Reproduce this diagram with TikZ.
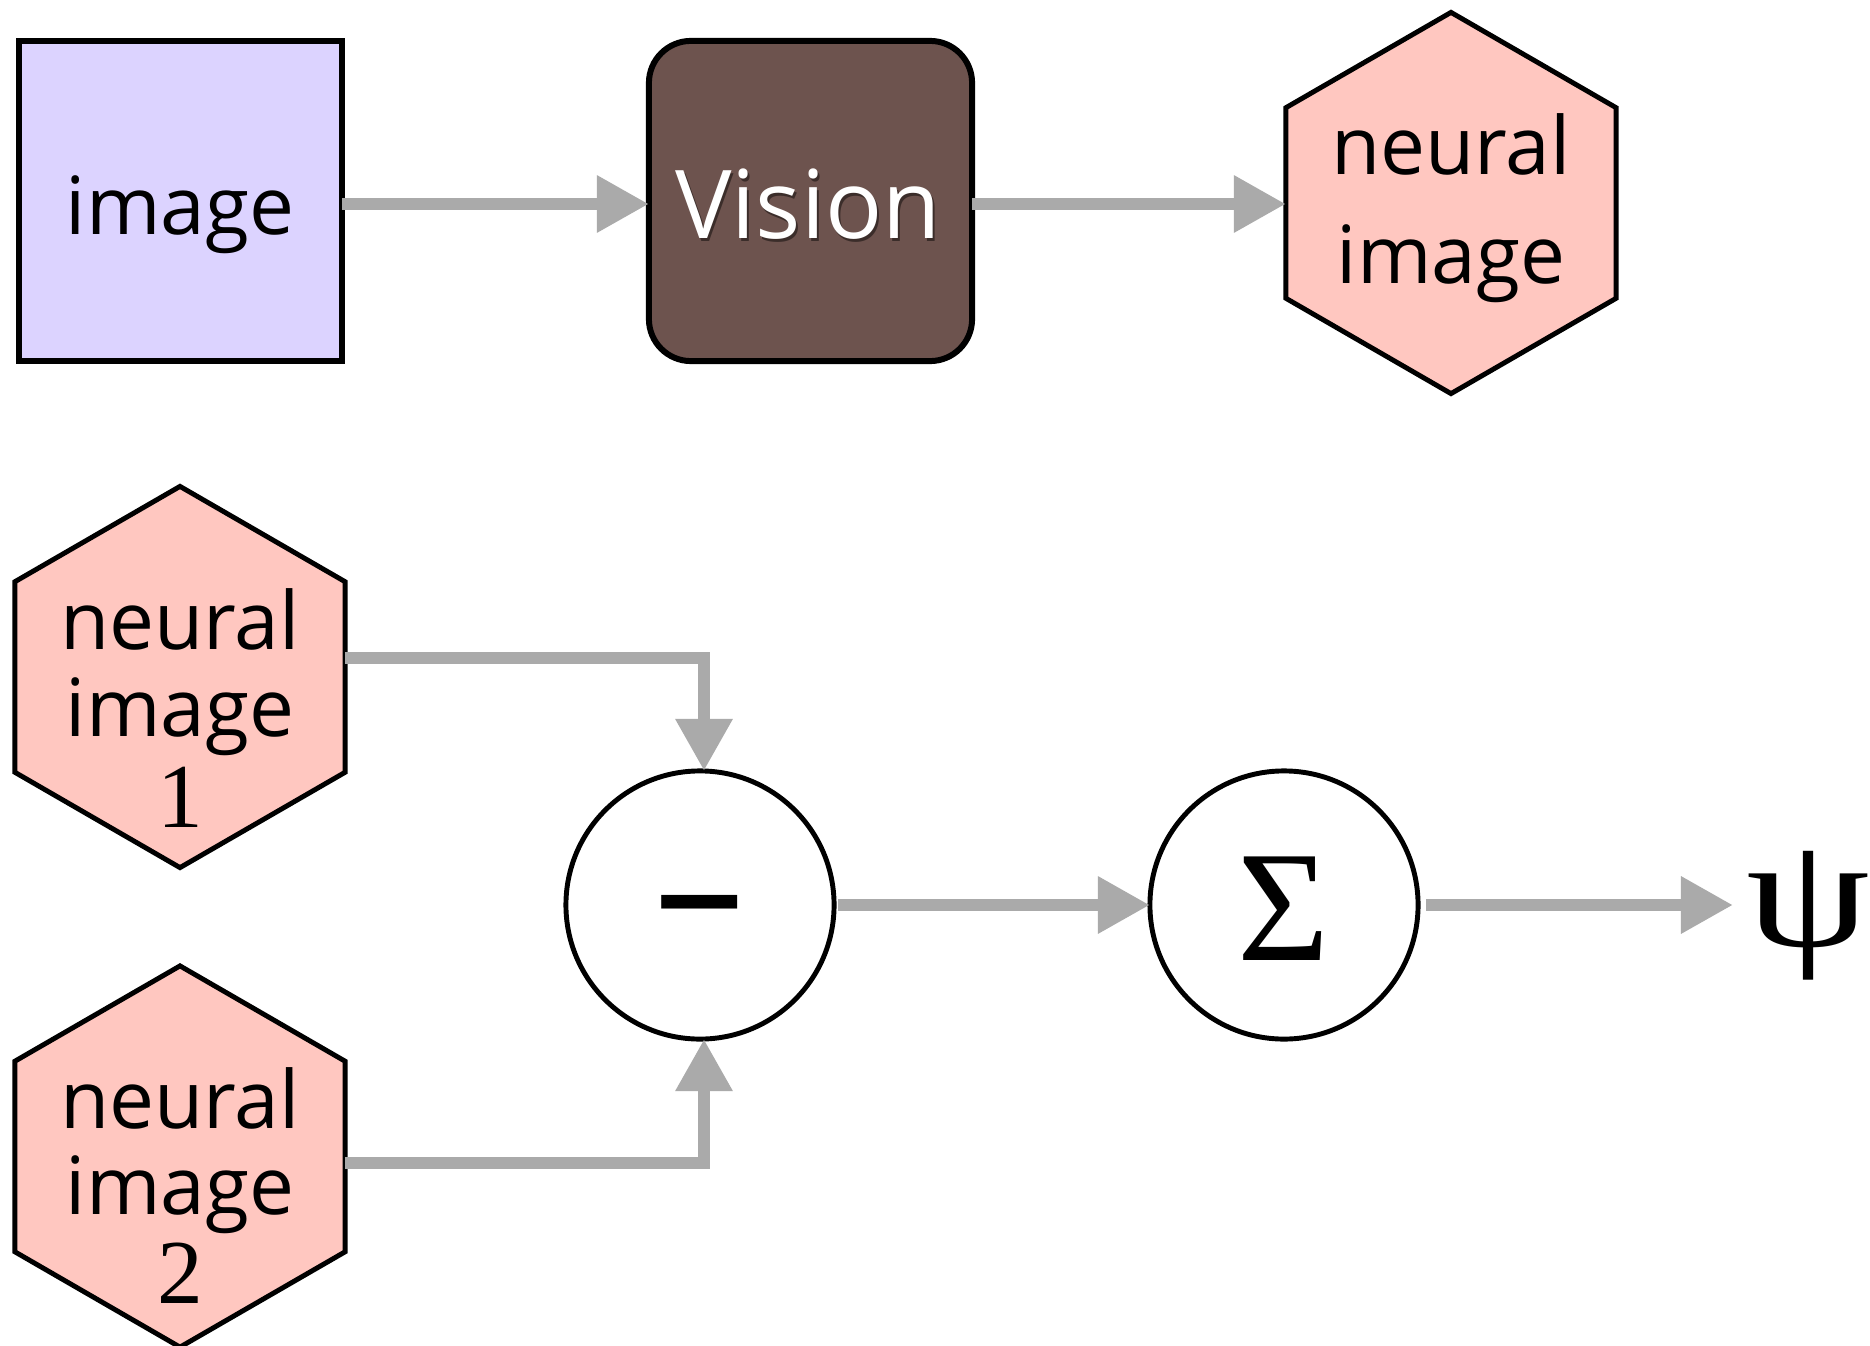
\documentclass[tikz,border=0pt]{standalone}
\usepackage{fontspec}
\setmainfont{Open Sans}
\newfontfamily\serifgr{Liberation Serif}
\usetikzlibrary{arrows.meta,shapes.geometric,calc}
\definecolor{lav}{HTML}{DCD3FF}
\definecolor{brownbox}{HTML}{6D534E}
\definecolor{hexpink}{HTML}{FFC7C0}
\definecolor{conngray}{HTML}{AAAAAA}
\tikzset{
  conn/.style={draw=conngray, line width=0.125cm, -{Triangle[length=0.52cm,width=0.54cm]}},
  sqbox/.style={draw=black, line width=1.7pt, minimum width=3.23cm, minimum height=3.2cm, inner sep=0, outer sep=0},
  hexbox/.style={regular polygon, regular polygon sides=6, shape border rotate=30, draw=black, line width=1.4pt, fill=hexpink, minimum size=3.81cm, inner sep=0, outer sep=0},
  opcirc/.style={circle, draw=black, line width=1.4pt, fill=white, minimum size=2.68cm, inner sep=0, outer sep=0},
  lbl/.style={inner sep=0, anchor=base, font=\fontsize{22.8}{27}\selectfont},
  numlbl/.style={inner sep=0, anchor=base, font=\serifgr\fontsize{26}{30}\selectfont},
}
\begin{document}
\begin{tikzpicture}[x=0.01cm,y=-0.01cm]
\path[use as bounding box, fill=white] (0,0) rectangle (1870,1346);
% top row
\node[sqbox, fill=lav] (img) at (180.5,201) {};
\node[lbl] (imgt) at (180,235) {image};
\node[sqbox, fill=brownbox, rounded corners=0.42cm] (vis) at (810.5,201) {};
\node[lbl, font=\fontsize{27}{32}\selectfont, text=black, opacity=0.45] (vissh) at (810,241.5) {Vision};
\node[lbl, font=\fontsize{27}{32}\selectfont, text=white] (vist) at (808,239) {Vision};
\node[hexbox] (nimg) at (1451,203) {};
\node[lbl] (nimga) at (1451,175) {neural};
\node[lbl] (nimgb) at (1451,284) {image};
\draw[conn] (img.east |- 0,204) -- (vis.west |- 0,204);
\draw[conn] (vis.east |- 0,204) -- (nimg.west |- 0,204);
% bottom
\node[hexbox] (hexA) at (180,677) {};
\node[lbl] (hexAa) at (180,649) {neural};
\node[lbl] (hexAb) at (180,736) {image};
\node[numlbl] (hexAc) at (180,827) {1};
\node[hexbox] (hexB) at (180,1156.5) {};
\node[lbl] (hexBa) at (180,1128) {neural};
\node[lbl] (hexBb) at (180,1214) {image};
\node[numlbl] (hexBc) at (180,1303) {2};
\node[opcirc] (minus) at (700,905) {};
\node[inner sep=0, font=\fontsize{46}{50}\selectfont, yscale=1.25] (minust) at (700,934) {−};
\node[opcirc] (sigma) at (1284,905) {};
\node[inner sep=0, font=\serifgr\fontsize{45}{50}\selectfont] (sigmat) at (1284,909) {Σ};
\node[inner sep=0, font=\serifgr\fontsize{45}{50}\selectfont, xscale=1.25] (psi) at (1808,916) {ψ};
\draw[conn] ($(hexA.east)+(0,-19)$) -| ($(minus.north)+(4,0)$);
\draw[conn] ($(hexB.east)+(0,6.5)$) -| ($(minus.south)+(4,0)$);
\draw[conn] ($(minus.east)+(4,0)$) -- (sigma.west);
\coordinate (psiin) at (1733,905);
\draw[conn] ($(sigma.east)+(8,0)$) -- (psiin);
\end{tikzpicture}
\end{document}
